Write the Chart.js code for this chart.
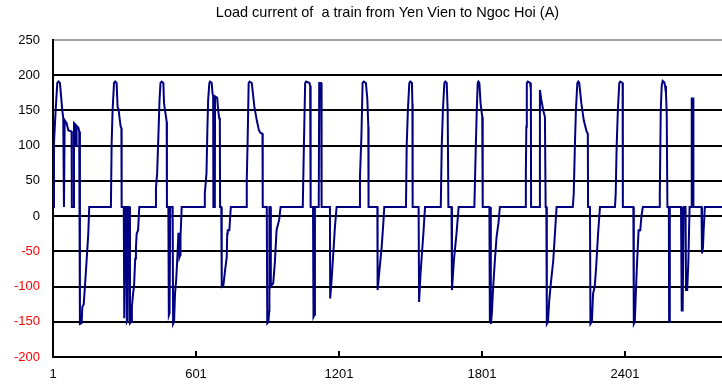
<!DOCTYPE html>
<html lang="en">
<head>
    <meta charset="UTF-8">
    <title>Load current of a train</title>
    <style>
        body {
            margin: 0;
            padding: 0;
            background-color: white;
        }
        .chart-box {
            width: 722px;
            height: 387px;
        }
    </style>
</head>
<body>
    <div class="chart-box">
        <canvas id="load-chart"></canvas>
    </div>

    <script src="https://cdn.jsdelivr.net/npm/chart.js"></script>
    <script>
        // sample number (x) and load current in A (y) at the corners of the trace
        const sampleNo = [
            1, 5, 12, 19, 24, 30, 35, 40, 44, 47, 50, 58, 65, 79, 80, 88, 89, 95, 98, 100, 108, 111, 114, 121, 124, 130, 135, 142, 149, 153,
            244, 247, 251, 257, 262, 268, 272, 276, 280, 285, 288, 289, 298, 300, 303, 305, 309, 311, 314, 316, 322, 324, 329, 332, 337, 341, 346, 349, 352, 358, 363,
            430, 433, 438, 444, 448, 452, 457, 464, 467, 472, 478, 479, 485, 487, 490, 493, 503, 505, 509, 513, 518, 524, 527, 531, 532, 535, 536, 541,
            636, 638, 645, 649, 652, 657, 660, 667, 670, 673, 674, 680, 681, 690, 694, 698, 701, 702, 707, 709, 716, 722, 730, 732, 734, 741, 747,
            811, 814, 818, 822, 826, 835, 846, 856, 865, 872, 880, 881, 898, 900, 905, 908, 909, 913, 915, 925, 932, 939, 950, 956,
            1049, 1051, 1055, 1059, 1063, 1077, 1080, 1082, 1092, 1094, 1098, 1100, 1116, 1118, 1126, 1128, 1163, 1164, 1170, 1177, 1184, 1191,
            1286, 1289, 1295, 1300, 1305, 1314, 1320, 1324, 1325, 1362, 1363, 1372, 1380, 1387, 1391,
            1482, 1485, 1490, 1496, 1500, 1507, 1509, 1510, 1535, 1537, 1543, 1549, 1555, 1562,
            1628, 1632, 1637, 1643, 1647, 1653, 1657, 1660, 1673, 1675, 1683, 1694, 1703,
            1769, 1775, 1779, 1783, 1786, 1790, 1795, 1802, 1804, 1832, 1834, 1836, 1838, 1842, 1848, 1855, 1862, 1870, 1876,
            1982, 1985, 1987, 1989, 1993, 2003, 2006, 2007, 2043, 2044, 2050, 2058, 2065, 2068, 2071, 2073, 2078, 2083, 2090, 2100, 2107, 2114,
            2182, 2186, 2191, 2195, 2201, 2205, 2209, 2218, 2228, 2240, 2245, 2246, 2254, 2256, 2262, 2267, 2274, 2280, 2288, 2296,
            2359, 2362, 2366, 2371, 2377, 2381, 2391, 2392, 2436, 2438, 2442, 2447, 2452, 2458, 2465, 2470, 2476,
            2545, 2547, 2551, 2555, 2559, 2566, 2569, 2573, 2576, 2579, 2585, 2586, 2589, 2636, 2639, 2643, 2647, 2655, 2657, 2662, 2667, 2672,
            2680, 2681, 2687, 2688, 2722, 2724, 2728, 2731, 2736, 2808
        ];
        const currentA = [
            13, 103, 150, 189, 191, 189, 170, 150, 139, 13, 136, 132, 122, 120, 13, 13, 132, 130, 100, 128, 125, 120, -153, -152, -129, -125, -100, -63, -25, 13,
            13, 103, 150, 189, 191, 189, 155, 152, 140, 127, 125, 13, 13, -145, -145, 13, 13, -150, -148, 13, 13, -152, -150, -129, -110, -100, -60, -45, -25, -20, 13,
            13, 40, 61, 122, 165, 189, 191, 189, 160, 148, 134, 13, 13, -141, -138, 13, 13, -153, -150, -110, -90, -50, -25, -25, -58, -55, -30, 13,
            13, 32, 61, 127, 165, 189, 191, 189, 175, 170, 13, 13, 170, 168, 150, 140, 136, 13, 13, -100, -98, -80, -58, -25, -20, -20, 13,
            13, 51, 113, 189, 191, 189, 155, 136, 122, 118, 117, 13, 13, -152, -150, -135, 13, 13, -100, -95, -65, -20, -5, 13,
            13, 51, 122, 189, 191, 189, 185, 13, 13, -143, -140, 13, 13, 189, 189, 13, 13, -117, -90, -53, -15, 13,
            13, 56, 113, 189, 191, 189, 165, 127, 13, 13, -105, -72, -44, -10, 13,
            13, 99, 150, 189, 191, 189, 160, 13, 13, -122, -82, -53, -25, 13,
            13, 99, 150, 189, 191, 189, 150, 13, 13, -105, -63, -25, 13,
            13, 99, 150, 189, 191, 189, 160, 141, 13, 13, -150, 13, -153, -140, -100, -63, -30, -10, 13,
            13, 61, 127, 189, 191, 189, 179, 13, 13, 179, 165, 150, 141, 13, 13, -153, -150, -120, -95, -63, -25, 13,
            13, 32, 103, 150, 189, 191, 189, 160, 136, 120, 117, 13, 13, -153, -150, -110, -100, -72, -25, 13,
            13, 32, 99, 150, 189, 191, 189, 13, 13, -153, -150, -105, -63, -20, -20, 0, 13,
            13, 32, 150, 185, 192, 190, 185, 174, 146, 13, 13, -150, 13, 13, -134, -134, 13, 13, -105, -105, -63, 13,
            13, 167, 167, 13, 13, -53, -45, -20, 13, 13
        ];
        const xTickLabels = [1, 601, 1201, 1801, 2401];

        // short tick marks pointing up from the bottom axis
        const innerTicks = {
            id: 'innerTicks',
            afterDraw(chart) {
                const ctx = chart.ctx;
                const xs = chart.scales.x;
                const bottom = chart.chartArea.bottom;
                ctx.save();
                ctx.strokeStyle = '#000';
                ctx.lineWidth = 2;
                xTickLabels.slice(1).forEach(v => {
                    const px = Math.round(xs.getPixelForValue(v));
                    ctx.beginPath();
                    ctx.moveTo(px, bottom);
                    ctx.lineTo(px, bottom - 6);
                    ctx.stroke();
                });
                ctx.restore();
            }
        };

        const ctxLoad = document.getElementById('load-chart').getContext('2d');
        new Chart(ctxLoad, {
            type: 'line',
            data: {
                datasets: [{
                    label: 'Load current',
                    data: sampleNo.map((x, i) => ({ x: x, y: currentA[i] })),
                    borderColor: '#000080',
                    borderWidth: 2,
                    pointRadius: 0,
                    tension: 0,
                    fill: false
                }]
            },
            options: {
                responsive: true,
                maintainAspectRatio: false,
                animation: false,
                layout: { padding: 0 },
                plugins: {
                    legend: { display: false },
                    tooltip: { enabled: false },
                    title: {
                        display: true,
                        fullSize: false,
                        text: 'Load current of  a train from Yen Vien to Ngoc Hoi (A)',
                        color: '#000',
                        font: { family: 'Liberation Sans, Arial, sans-serif', size: 14.5, weight: 'normal' },
                        padding: { top: 4, bottom: 18.6 }
                    }
                },
                scales: {
                    x: {
                        type: 'linear',
                        min: 1,
                        max: 2808,
                        afterBuildTicks: scale => {
                            scale.ticks = xTickLabels.map(v => ({ value: v }));
                        },
                        afterFit: scale => { scale.height = 30; },
                        grid: { display: false, drawTicks: false },
                        border: { display: true, color: '#000', width: 2 },
                        ticks: {
                            color: '#000',
                            padding: 10,
                            maxRotation: 0,
                            autoSkip: false,
                            callback: v => String(v),
                            font: { family: 'Liberation Sans, Arial, sans-serif', size: 13 }
                        }
                    },
                    y: {
                        min: -200,
                        max: 250,
                        afterFit: scale => { scale.width = 53; },
                        grid: {
                            drawTicks: false,
                            lineWidth: 2,
                            color: c => (c.tick && c.tick.value === 250 ? '#a0a0a0' : '#000')
                        },
                        border: { display: true, color: '#000', width: 2 },
                        ticks: {
                            stepSize: 50,
                            padding: 13,
                            color: c => (c.tick.value < 0 ? '#ff0000' : '#000'),
                            font: { family: 'Liberation Sans, Arial, sans-serif', size: 13 }
                        }
                    }
                }
            },
            plugins: [innerTicks]
        });
    </script>
</body>
</html>
